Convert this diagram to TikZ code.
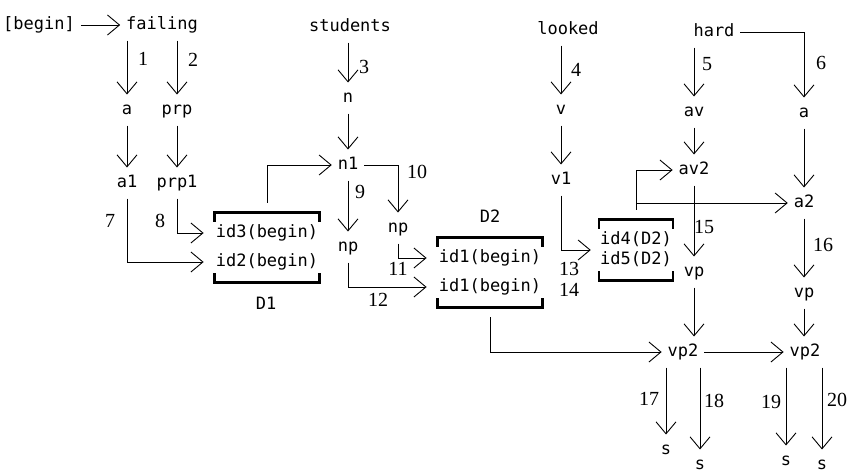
\documentclass[tikz,border=0pt]{standalone}
\usepackage{fontspec}
\newfontfamily\wordfont{DejaVu Sans Mono}
\newfontfamily\numfont{Liberation Serif}
\usetikzlibrary{arrows.meta,fit}
\begin{document}
\begin{tikzpicture}[x=1pt,y=-1pt,
  w/.style={font=\wordfont\fontsize{17}{20}\selectfont, inner sep=0pt, text height=12pt, text depth=3pt, outer ysep=8pt, outer xsep=6pt},
  idt/.style={font=\wordfont\fontsize{17}{20}\selectfont, inner sep=0pt, text height=12pt, text depth=3pt},
  num/.style={font=\numfont\fontsize{20}{22}\selectfont, inner sep=0pt},
  arr/.style={-{Straight Barb[length=12pt,width=20pt]}, line width=0.9pt},
  brk/.style={line width=2.4pt},
  bx/.style={inner xsep=1pt, inner ysep=12.5pt},
]
\useasboundingbox (0,0) rectangle (848,475);

% words
\node[w] (begin) at (39,25) {[begin]};
\node[w] (failing) at (162,25) {failing};
\node[w] (students) at (350,27) {students};
\node[w] (looked) at (568,30) {looked};
\node[w] (hard) at (714,32) {hard};
\node[w] (a) at (127,110) {a};
\node[w] (prp) at (177,110) {prp};
\node[w] (a1) at (127,183) {a1};
\node[w] (prp1) at (177,183) {prp1};
\node[w] (n) at (348,98) {n};
\node[w] (n1) at (348,165) {n1};
\node[w] (np9) at (348,247) {np};
\node[w] (np10) at (398,228) {np};
\node[w] (v) at (561,110) {v};
\node[w] (v1) at (561,180) {v1};
\node[w] (av) at (694,112) {av};
\node[w] (a6) at (804,113) {a};
\node[w] (av2) at (694,170) {av2};
\node[w] (a2) at (804,203) {a2};
\node[w] (vp15) at (694,272) {vp};
\node[w] (vp16) at (804,293) {vp};
\node[w] (vp2a) at (683,352) {vp2};
\node[w] (vp2b) at (805,352) {vp2};
\node[w] (s17) at (666,450) {s};
\node[w] (s18) at (700,465) {s};
\node[w] (s19) at (786,461) {s};
\node[w] (s20) at (822,465) {s};

% boxes
\node[idt] (id3) at (267,233) {id3(begin)};
\node[idt] (id2) at (267,262) {id2(begin)};
\node[bx, fit=(id3)(id2)] (D1) {};
\node[w] (d1lab) at (266,305) {D1};
\node[idt] (id1a) at (490,258) {id1(begin)};
\node[idt] (id1b) at (490,287) {id1(begin)};
\node[bx, fit=(id1a)(id1b)] (D2) {};
\node[w] (d2lab) at (490,218) {D2};
\node[idt] (id4) at (636,240) {id4(D2)};
\node[idt] (id5) at (636,260) {id5(D2)};
\node[bx, fit=(id4)(id5)] (D3) {};

\foreach \b in {D1,D2,D3}{
  \draw[brk] ([yshift=-9pt]\b.north west) -- (\b.north west) -- (\b.north east) -- ([yshift=-9pt]\b.north east);
  \draw[brk] ([yshift=9pt]\b.south west) -- (\b.south west) -- (\b.south east) -- ([yshift=9pt]\b.south east);
}

% numbers
\node[num] (l1) at (143,59) {1};
\node[num] (l2) at (193,60) {2};
\node[num] (l3) at (364,67) {3};
\node[num] (l4) at (576,70) {4};
\node[num] (l5) at (707,64) {5};
\node[num] (l6) at (821,63) {6};
\node[num] (l7) at (110,221) {7};
\node[num] (l8) at (160,221) {8};
\node[num] (l9) at (360,192) {9};
\node[num] (l10) at (417,172) {10};
\node[num] (l11) at (398,269) {11};
\node[num] (l12) at (378,300) {12};
\node[num] (l13) at (569,269) {13};
\node[num] (l14) at (569,290) {14};
\node[num] (l15) at (704,227) {15};
\node[num] (l16) at (823,245) {16};
\node[num] (l17) at (649,399) {17};
\node[num] (l18) at (714,401) {18};
\node[num] (l19) at (771,402) {19};
\node[num] (l20) at (837,400) {20};

% connectors
\draw[arr] (begin.east) -- (failing.west);
\draw[arr] (a |- failing.south) -- (a.north);
\draw[arr] (prp |- failing.south) -- (prp.north);
\draw[arr] (a.south) -- (a1.north);
\draw[arr] (prp.south) -- (prp1.north);
\draw[arr, shorten >=12pt] (a1.south) |- (id2.west);
\draw[arr, shorten >=12pt] (prp1.south) |- (id3.west);
\draw[arr, shorten <=10pt] (D1.north) |- (n1.west);
\draw[arr] (n |- students.south) -- (n.north);
\draw[arr] (n.south) -- (n1.north);
\draw[arr] (n1.south) -- (np9.north);
\draw[arr] (n1.east) -| (np10.north);
\draw[arr, shorten >=12pt] (np10.south) |- (id1a.west);
\draw[arr, shorten >=12pt] (np9.south) |- (id1b.west);
\draw[arr, shorten <=10pt] (D2.south) |- (vp2a.west);
\draw[arr] (v |- looked.south) -- (v.north);
\draw[arr] (v.south) -- (v1.north);
\draw[arr, shorten >=8pt] (v1.south) |- (D3.west);
\draw[arr, shorten <=10pt] (D3.north) |- (av2.west);
\draw[arr, shorten <=10pt] (D3.north) |- (a2.west);
\draw[arr] (av |- hard.south) -- (av.north);
\draw[arr] (hard.east) -| (a6.north);
\draw[arr] (av.south) -- (av2.north);
\draw[arr] (a6.south) -- (a2.north);
\draw[arr] (av2.south) -- (vp15.north);
\draw[arr] (a2.south) -- (vp16.north);
\draw[arr] (vp15.south) -- (vp15 |- vp2a.north);
\draw[arr] (vp16.south) -- (vp16 |- vp2b.north);
\draw[arr] (vp2a.east) -- (vp2b.west);
\draw[arr] (s17 |- vp2a.south) -- (s17.north);
\draw[arr] (s18 |- vp2a.south) -- (s18.north);
\draw[arr] (s19 |- vp2b.south) -- (s19.north);
\draw[arr] (s20 |- vp2b.south) -- (s20.north);
\end{tikzpicture}
\end{document}
